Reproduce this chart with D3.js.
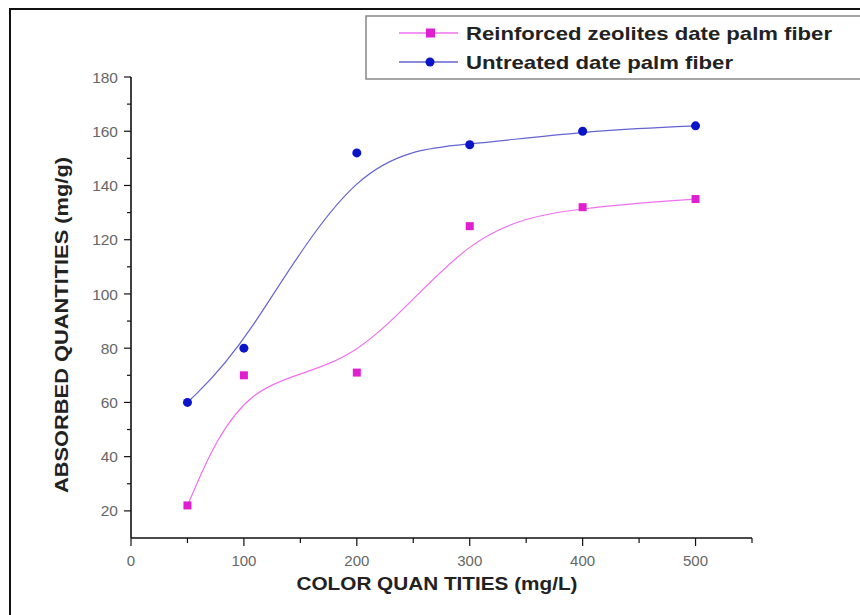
<!DOCTYPE html>
<html>
<head>
<meta charset="utf-8">
<script src="https://cdn.jsdelivr.net/npm/d3@7"></script>
<style>
  html, body { margin: 0; padding: 0; background: #fff; }
  svg { display: block; }
  text { font-family: "Liberation Sans", Arial, sans-serif; }
</style>
</head>
<body>
<svg id="chart" width="860" height="615"></svg>
<script>
// Adsorption data: color concentration (mg/L) vs absorbed quantity (mg/g)
const colorQuantities = [50, 100, 200, 300, 400, 500];
const reinforcedValues = [22, 70, 71, 125, 132, 135];
const untreatedValues = [60, 80, 152, 155, 160, 162];
const seriesNames = ["Reinforced zeolites date palm fiber", "Untreated date palm fiber"];
const xTicks = [0, 100, 200, 300, 400, 500];
const yTicks = [20, 40, 60, 80, 100, 120, 140, 160, 180];

const svg = d3.select("#chart");

// outer frame (left and top edges)
svg.append("path")
  .attr("d", "M10,615 L10,9 L860,9")
  .attr("fill", "none").attr("stroke", "#111").attr("stroke-width", 2);

const x = d3.scaleLinear().domain([0, 550]).range([131, 752]);
const y = d3.scaleLinear().domain([10, 180]).range([538, 77]);

const axisColor = "#111";
const labelColor = "#666";

// y axis
const yAxis = svg.append("g").attr("transform", `translate(${x(0)},0)`);
yAxis.append("line").attr("x1", 0).attr("x2", 0).attr("y1", y(10)).attr("y2", y(180))
  .attr("stroke", axisColor).attr("stroke-width", 1.6);
d3.range(20, 181, 10).forEach(v => {
  const major = v % 20 === 0;
  yAxis.append("line").attr("x1", 0).attr("x2", major ? -7 : -4)
    .attr("y1", y(v)).attr("y2", y(v)).attr("stroke", axisColor).attr("stroke-width", 1.2);
});
yAxis.selectAll("text.tick").data(yTicks).enter().append("text")
  .attr("x", -13).attr("y", d => y(d)).attr("dy", "0.36em")
  .attr("text-anchor", "end").attr("font-size", 15.5).attr("fill", labelColor)
  .text(d => d);

// x axis
const xAxis = svg.append("g").attr("transform", `translate(0,${y(10)})`);
xAxis.append("line").attr("x1", x(0)).attr("x2", x(550)).attr("y1", 0).attr("y2", 0)
  .attr("stroke", axisColor).attr("stroke-width", 1.6);
d3.range(0, 551, 50).forEach(v => {
  const major = v % 100 === 0;
  xAxis.append("line").attr("x1", x(v)).attr("x2", x(v))
    .attr("y1", 0).attr("y2", major ? 8 : 5).attr("stroke", axisColor).attr("stroke-width", 1.2);
});
xAxis.selectAll("text.tick").data(xTicks).enter().append("text")
  .attr("x", d => x(d)).attr("y", 28)
  .attr("text-anchor", "middle").attr("font-size", 15).attr("fill", labelColor)
  .text(d => d);

// axis titles
svg.append("text")
  .attr("transform", `translate(68,${325}) rotate(-90)`)
  .attr("text-anchor", "middle").attr("font-size", 19).attr("font-weight", "bold")
  .attr("fill", "#222")
  .attr("textLength", 336).attr("lengthAdjust", "spacingAndGlyphs")
  .text("ABSORBED QUANTITIES (mg/g)");
svg.append("text")
  .attr("x", 437).attr("y", 590)
  .attr("text-anchor", "middle").attr("font-size", 18).attr("font-weight", "bold")
  .attr("fill", "#222")
  .attr("textLength", 281).attr("lengthAdjust", "spacingAndGlyphs")
  .text("COLOR QUAN TITIES (mg/L)");

// smoothed curves
const lineGen = d3.line().x(d => x(d[0])).y(d => y(d[1])).curve(d3.curveBasis);
const reinforced = colorQuantities.map((c, i) => [c, reinforcedValues[i]]);
const untreated = colorQuantities.map((c, i) => [c, untreatedValues[i]]);

const pink = "#f070f0", pinkMark = "#e020d0";
const blue = "#6464d2", blueMark = "#0a14c8";

svg.append("path").datum(reinforced).attr("d", lineGen)
  .attr("fill", "none").attr("stroke", pink).attr("stroke-width", 1.2);
svg.append("path").datum(untreated).attr("d", lineGen)
  .attr("fill", "none").attr("stroke", blue).attr("stroke-width", 1.2);

// markers
svg.selectAll("rect.pt").data(reinforced).enter().append("rect")
  .attr("x", d => x(d[0]) - 4).attr("y", d => y(d[1]) - 4)
  .attr("width", 8).attr("height", 8).attr("fill", pinkMark);
svg.selectAll("circle.pt").data(untreated).enter().append("circle")
  .attr("cx", d => x(d[0])).attr("cy", d => y(d[1])).attr("r", 4.5)
  .attr("fill", blueMark);

// legend
const legend = svg.append("g");
legend.append("rect").attr("x", 366).attr("y", 16).attr("width", 520).attr("height", 63)
  .attr("fill", "#fff").attr("stroke", "#888").attr("stroke-width", 1.5);
const entries = [
  { name: seriesNames[0], line: pink, mark: pinkMark, shape: "square", cy: 33, w: 366 },
  { name: seriesNames[1], line: blue, mark: blueMark, shape: "circle", cy: 62, w: 267 }
];
entries.forEach(e => {
  legend.append("line").attr("x1", 399).attr("x2", 458).attr("y1", e.cy).attr("y2", e.cy)
    .attr("stroke", e.line).attr("stroke-width", 1.3);
  if (e.shape === "square") {
    legend.append("rect").attr("x", 426).attr("y", e.cy - 4.5).attr("width", 9).attr("height", 9)
      .attr("fill", e.mark);
  } else {
    legend.append("circle").attr("cx", 430).attr("cy", e.cy).attr("r", 4.5).attr("fill", e.mark);
  }
  legend.append("text").attr("x", 466).attr("y", e.cy).attr("dy", "0.36em")
    .attr("font-size", 18.5).attr("font-weight", "bold").attr("fill", "#222")
    .attr("textLength", e.w).attr("lengthAdjust", "spacingAndGlyphs")
    .text(e.name);
});
</script>
</body>
</html>
